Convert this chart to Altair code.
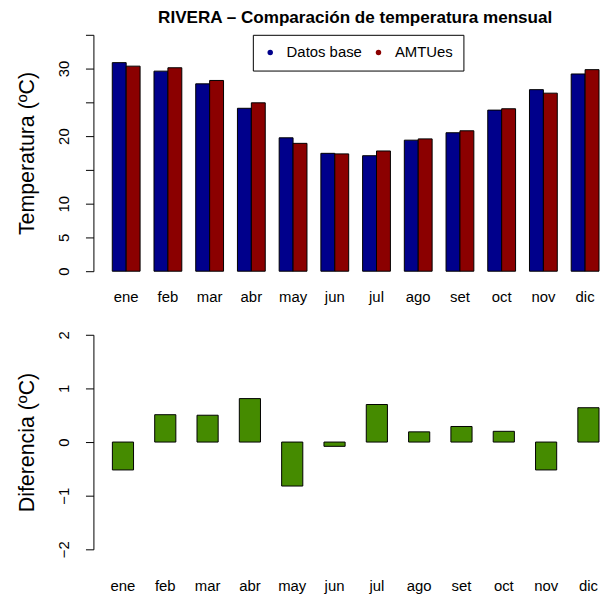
import altair as alt
import pandas as pd

# ---------------- data ----------------
meses = ["ene", "feb", "mar", "abr", "may", "jun", "jul", "ago", "set", "oct", "nov", "dic"]
series = ["Datos base", "AMTUes"]
datos_base = [30.88, 29.62, 27.74, 24.12, 19.75, 17.45, 17.10, 19.40, 20.50, 23.85, 26.88, 29.20]
amtues = [30.36, 30.12, 28.24, 24.93, 18.93, 17.37, 17.80, 19.59, 20.79, 24.05, 26.36, 29.84]
diferencia = [-0.52, 0.51, 0.50, 0.81, -0.82, -0.08, 0.70, 0.19, 0.29, 0.20, -0.52, 0.64]

ticks_temp = [0, 5, 10, 15, 20, 25, 30, 35]
labels_temp = [0, 5, 10, 20, 30]
ticks_dif = [-2, -1, 0, 1, 2]

titulo = "RIVERA \u2013 Comparaci\u00f3n de temperatura mensual"
colores = ["#00008B", "#8B0000"]
color_dif = "#458B00"
FONT = "Liberation Sans"

df_top = pd.DataFrame({
    "mes": meses * 2,
    "serie": [series[0]] * len(meses) + [series[1]] * len(meses),
    "valor": datos_base + amtues,
})
df_dif = pd.DataFrame({"mes": meses, "dif": diferencia})

W = 509

label_expr = "indexof([" + ",".join(str(v) for v in labels_temp) + "], datum.value) >= 0 ? datum.label : ''"


def y_axis(title, values, expr=None):
    kw = dict(
        values=values, title=title, grid=False,
        titleFont=FONT, titleFontSize=21.5, titleFontWeight="normal", titleColor="black",
        titleAngle=270, titleBaseline="middle", titleX=-66.5,
        labelFont=FONT, labelFontSize=15, labelColor="black",
        labelAngle=270, labelAlign="center", labelBaseline="middle", labelPadding=22,
        tickSize=8, tickColor="black", domainColor="black", tickWidth=1, domainWidth=1,
        labelOverlap=False,
    )
    if expr:
        kw["labelExpr"] = expr
    return alt.Axis(**kw)


def x_axis(pad):
    return alt.Axis(
        title=None, domain=False, ticks=False, tickSize=0, labelAngle=0,
        labelFont=FONT, labelFontSize=15, labelColor="black",
        labelBaseline="middle", labelPadding=pad,
    )


top = alt.Chart(df_top).mark_bar(stroke="black", strokeWidth=1).encode(
    x=alt.X("mes:N", sort=meses,
            scale=alt.Scale(paddingInner=1 / 3, paddingOuter=0.226, align=1),
            axis=x_axis(26)),
    xOffset=alt.XOffset("serie:N", sort=series,
                        scale=alt.Scale(domain=series, paddingInner=0, paddingOuter=0)),
    y=alt.Y("valor:Q", scale=alt.Scale(domain=[0, 35], nice=False),
            axis=y_axis("Temperatura (\u00baC)", ticks_temp, label_expr)),
    color=alt.Color("serie:N", sort=series,
                    scale=alt.Scale(domain=series, range=colores),
                    legend=alt.Legend(
                        title=None, orient="none", legendX=160.5, legendY=0,
                        direction="horizontal", symbolType="circle", symbolSize=30,
                        symbolStrokeWidth=0, labelFont=FONT, labelFontSize=15,
                        labelColor="black", labelOffset=9, columnPadding=9,
                        padding=10, strokeColor="black", fillColor="white",
                    )),
).properties(
    width=W, height=238,
    title=alt.TitleParams(titulo, font=FONT, fontSize=17.2, fontWeight="bold",
                          color="black", anchor="middle", frame="group", dx=9,
                          baseline="alphabetic", offset=-5.5),
)

bottom = alt.Chart(df_dif).mark_bar(color=color_dif, stroke="black", strokeWidth=1).encode(
    x=alt.X("mes:N", sort=meses,
            scale=alt.Scale(paddingInner=0.5, paddingOuter=0.224, align=1),
            axis=x_axis(36)),
    y=alt.Y("dif:Q", scale=alt.Scale(domain=[-2, 2], nice=False),
            axis=y_axis("Diferencia (\u00baC)", ticks_dif)),
    y2=alt.Y2(datum=0),
).properties(width=W, height=216)

chart = alt.vconcat(top, bottom, spacing=25).properties(
    padding={"left": 8, "top": -2, "right": 0, "bottom": 0},
    background="white",
).configure_view(stroke=None)

chart.save("out.html", embed_options={"renderer": "svg", "actions": False})
